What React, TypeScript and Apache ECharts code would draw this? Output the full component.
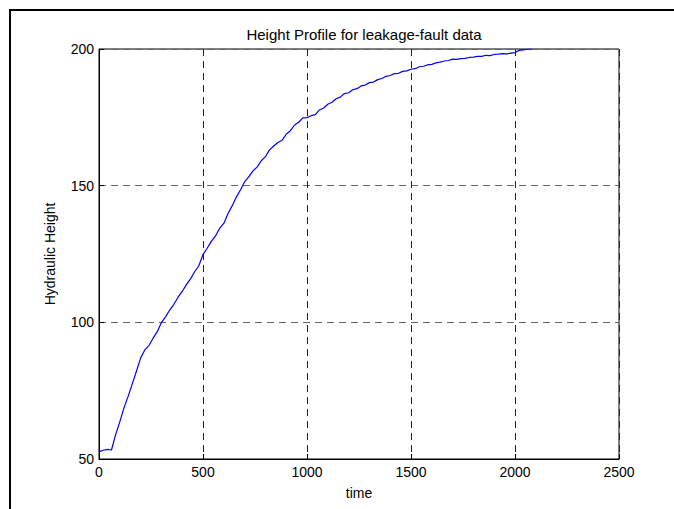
import React, { useEffect, useRef } from "react";
import * as echarts from "echarts";

const titleText = "Height Profile for leakage-fault data";
const xName = "time";
const yName = "Hydraulic Height";

const times = [
  0, 20, 40, 60, 80, 100, 120, 140, 160, 180, 200, 220, 240, 260, 280, 300, 320, 340, 360, 380,
  400, 420, 440, 460, 480, 500, 520, 540, 560, 580, 600, 620, 640, 660, 680, 700, 720, 740, 760, 780,
  800, 820, 840, 860, 880, 900, 920, 940, 960, 980, 1000, 1020, 1040, 1060, 1080, 1100, 1120, 1140, 1160, 1180,
  1200, 1220, 1240, 1260, 1280, 1300, 1320, 1340, 1360, 1380, 1400, 1420, 1440, 1460, 1480, 1500, 1520, 1540, 1560, 1580,
  1600, 1620, 1640, 1660, 1680, 1700, 1720, 1740, 1760, 1780, 1800, 1820, 1840, 1860, 1880, 1900, 1920, 1940, 1960, 1980,
  2000, 2020, 2040, 2060, 2080,
];

const heights = [
  52.6, 53.2, 53.5, 53.3, 58.9, 63.6, 68.7, 72.9, 77.5, 82.1, 86.9, 89.9, 91.5, 94.2, 96.6, 99.9, 102.0, 104.5, 106.6, 109.2,
  111.3, 113.8, 115.9, 118.5, 120.7, 124.8, 127.1, 129.6, 131.6, 134.4, 136.2, 139.7, 142.6, 145.8, 148.4, 151.4, 153.2, 155.4, 156.8, 159.1,
  160.6, 163.1, 164.5, 165.8, 166.6, 168.8, 170.1, 172.2, 173.2, 174.8, 174.9, 175.6, 176.0, 177.7, 178.4, 179.8, 180.5, 181.8, 182.4, 183.7,
  184.0, 185.1, 185.5, 186.5, 186.8, 187.7, 187.9, 188.8, 189.2, 190.0, 190.3, 191.0, 191.1, 191.8, 192.0, 192.6, 192.8, 193.5, 193.7, 194.2,
  194.4, 194.9, 195.2, 195.6, 195.8, 196.3, 196.2, 196.5, 196.6, 196.9, 197.0, 197.3, 197.3, 197.7, 197.6, 198.0, 198.1, 198.3, 198.2, 198.5,
  198.7, 199.5, 199.7, 199.9, 200.0,
];

const xTicks = { min: 0, max: 2500, interval: 500 };
const yTicks = { min: 50, max: 200, interval: 50 };

export default function App() {
  const ref = useRef<HTMLDivElement>(null);
  useEffect(() => {
    if (!ref.current) return;
    const chart = echarts.init(ref.current, null, { renderer: "svg" });
    const font = "'Liberation Sans', Arial, Helvetica, sans-serif";
    chart.setOption({
      animation: false,
      backgroundColor: "#ffffff",
      title: {
        text: titleText,
        left: 359,
        textAlign: "center",
        top: 22,
        textStyle: { fontFamily: font, fontSize: 15, fontWeight: "normal", color: "#000" },
      },
      graphic: [
        {
          type: "rect",
          shape: { x: 10, y: 10, width: 800, height: 700 },
          style: { fill: "none", stroke: "#000", lineWidth: 2 },
          silent: true,
          z: 100,
        },
      ],
      grid: {
        left: 99,
        right: 55,
        top: 49,
        bottom: 50,
        show: true,
        borderColor: "#000",
        borderWidth: 1,
        backgroundColor: "transparent",
      },
      xAxis: {
        type: "value",
        min: xTicks.min,
        max: xTicks.max,
        interval: xTicks.interval,
        name: xName,
        nameLocation: "middle",
        nameGap: 27,
        nameTextStyle: { fontFamily: font, fontSize: 14, color: "#000" },
        axisLine: { show: true, onZero: false, lineStyle: { color: "#000", width: 1 } },
        axisTick: { show: true, inside: true, length: 5, lineStyle: { color: "#000" } },
        axisLabel: {
          fontFamily: font,
          fontSize: 14,
          color: "#000",
          margin: 6,
          formatter: (v: number) => String(v),
        },
        splitLine: { show: true, lineStyle: { color: "#222", type: [7, 5], width: 1 } },
      },
      yAxis: {
        type: "value",
        min: yTicks.min,
        max: yTicks.max,
        interval: yTicks.interval,
        name: yName,
        nameLocation: "middle",
        nameGap: 42,
        nameTextStyle: { fontFamily: font, fontSize: 14, color: "#000" },
        axisLine: { show: true, onZero: false, lineStyle: { color: "#000", width: 1 } },
        axisTick: { show: true, inside: true, length: 5, lineStyle: { color: "#000" } },
        axisLabel: {
          fontFamily: font,
          fontSize: 14,
          color: "#000",
          margin: 5,
          formatter: (v: number) => String(v),
        },
        splitLine: { show: true, lineStyle: { color: "#666", type: [7, 5], width: 1 } },
      },
      series: [
        {
          type: "line",
          data: times.map((t, i) => [t, heights[i]]),
          showSymbol: false,
          symbol: "none",
          lineStyle: { color: "#0000ff", width: 1.2 },
          clip: true,
        },
      ],
    });
    return () => chart.dispose();
  }, []);
  return (
    <div
      ref={ref}
      style={{ position: "fixed", left: 0, top: 0, width: 674, height: 509 }}
    />
  );
}
